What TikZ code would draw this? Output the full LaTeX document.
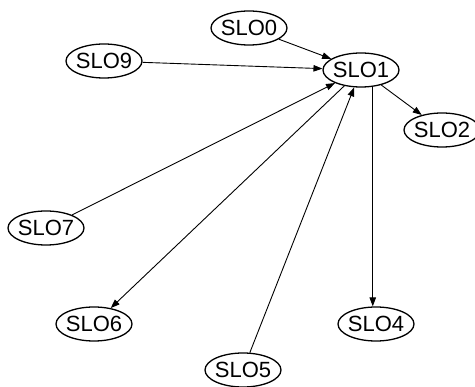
\documentclass[tikz,border=0pt]{standalone}
\usepackage{fontspec}
\setmainfont{Liberation Sans}
\usetikzlibrary{shapes.geometric,arrows.meta}
\begin{document}
\begin{tikzpicture}[x=1pt,y=-1pt,
  slo/.style={ellipse,draw,line width=1.3pt,minimum width=76pt,minimum height=34pt,inner xsep=-1.5pt,inner ysep=0pt,font=\fontsize{22}{24}\selectfont},
  link/.style={line width=0.9pt,-{Triangle[length=9pt,width=6.5pt]}}]
\useasboundingbox (0,0) rectangle (475,387);
\node[slo] (s0) at (249,28) {SLO0};
\node[slo] (s1) at (361,70) {SLO1};
\node[slo] (s2) at (442,130) {SLO2};
\node[slo] (s9) at (104,61) {SLO9};
\node[slo] (s7) at (46,228) {SLO7};
\node[slo] (s6) at (94,324) {SLO6};
\node[slo] (s5) at (243,370) {SLO5};
\node[slo] (s4) at (376,324) {SLO4};
\draw[link] (s0) -- (s1);
\draw[link] (s9) -- (s1);
\draw[link] (s1) -- (s2);
\draw[link] (s7) -- (s1);
\draw[link] (s1) -- (s6);
\draw[link] (s5) -- (s1);
\draw[link] (s1.-55) -- (s1.-55 |- s4.north);
\end{tikzpicture}
\end{document}
